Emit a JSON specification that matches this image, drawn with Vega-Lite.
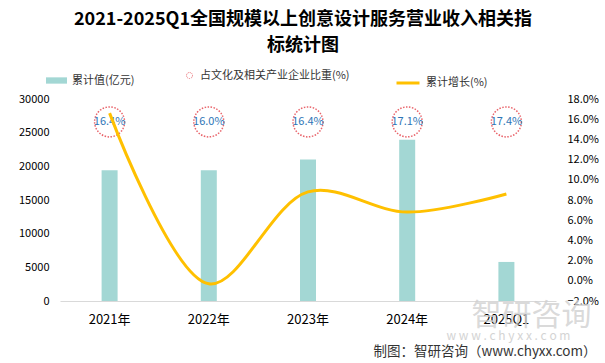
{
  "$schema": "https://vega.github.io/schema/vega-lite/v6.json",
  "width": 496,
  "height": 202,
  "autosize": {"type": "none"},
  "padding": {"left": 60, "top": 99, "right": 49, "bottom": 62},
  "background": "white",
  "config": {
    "view": {"stroke": null},
    "font": "Noto Sans CJK SC",
    "axis": {"labelFont": "Noto Sans CJK SC", "titleFont": "Noto Sans CJK SC"},
    "legend": {"labelFont": "Noto Sans CJK SC", "labelFontSize": 11, "labelColor": "#333333", "labelOffset": 5, "padding": 0}
  },
  "title": {
    "text": ["2021-2025Q1全国规模以上创意设计服务营业收入相关指", "标统计图"],
    "fontSize": 18,
    "fontWeight": "bold",
    "lineHeight": 26,
    "anchor": "middle",
    "color": "#000000",
    "font": "Noto Sans CJK SC",
    "offset": 15,
    "dx": -5
  },
  "data": {
    "values": [
      {"year": "2021年", "value": 19400, "growth": 16.6, "share": 0.164},
      {"year": "2022年", "value": 19400, "growth": -0.3, "share": 0.160},
      {"year": "2023年", "value": 21000, "growth": 8.8, "share": 0.164},
      {"year": "2024年", "value": 23950, "growth": 6.8, "share": 0.171},
      {"year": "2025Q1", "value": 5800, "growth": 8.6, "share": 0.174}
    ]
  },
  "encoding": {
    "x": {
      "field": "year",
      "type": "nominal",
      "sort": null,
      "scale": {"paddingInner": 0, "paddingOuter": 0},
      "axis": {
        "labelAngle": 0,
        "ticks": false,
        "domainColor": "#d9d9d9",
        "labelFontSize": 13,
        "labelColor": "#000000",
        "labelPadding": 12,
        "title": "制图：智研咨询（www.chyxx.com）",
        "titleFontSize": 13.5,
        "titleFontWeight": "normal",
        "titleColor": "#333333",
        "titleAnchor": "end",
        "titleAlign": "right",
        "titleBaseline": "middle",
        "titleX": 536,
        "titleY": 50
      }
    }
  },
  "layer": [
    {
      "layer": [
        {
          "mark": {"type": "bar", "size": 16},
          "encoding": {
            "y": {
              "field": "value",
              "type": "quantitative",
              "scale": {"domain": [0, 30000]},
              "axis": {
                "values": [0, 5000, 10000, 15000, 20000, 25000, 30000],
                "format": "d",
                "labelOverlap": false,
                "ticks": false,
                "domain": false,
                "grid": false,
                "labelFontSize": 11,
                "labelColor": "#000000",
                "labelPadding": 11,
                "title": "w  w  w  .  c  h  y  x  x  .  c  o  m",
                "titleFontSize": 12,
                "titleFontWeight": "normal",
                "titleColor": "#d4d4d4",
                "titleAngle": 0,
                "titleAlign": "center",
                "titleBaseline": "middle",
                "titleX": 448,
                "titleY": 236
              }
            },
            "fill": {
              "datum": "累计值(亿元)",
              "scale": {"range": ["#a3d7d4"]},
              "legend": {
                "orient": "none",
                "legendX": -14,
                "legendY": -29,
                "title": null,
                "symbolType": "M-1,-0.3L1,-0.3L1,0.3L-1,0.3Z",
                "symbolSize": 441,
                "symbolStrokeWidth": 0
              }
            }
          }
        },
        {
          "mark": {"type": "point", "shape": "circle", "size": 900, "filled": false, "strokeWidth": 1.5, "strokeDash": [1.5, 1.5]},
          "encoding": {
            "y": {
              "datum": 26600,
              "type": "quantitative",
              "axis": {
                "values": [0, 5000, 10000, 15000, 20000, 25000, 30000],
                "format": "d",
                "labelOverlap": false,
                "ticks": false,
                "domain": false,
                "grid": false,
                "labelFontSize": 11,
                "labelColor": "#000000",
                "labelPadding": 11,
                "title": "w  w  w  .  c  h  y  x  x  .  c  o  m",
                "titleFontSize": 12,
                "titleFontWeight": "normal",
                "titleColor": "#d4d4d4",
                "titleAngle": 0,
                "titleAlign": "center",
                "titleBaseline": "middle",
                "titleX": 448,
                "titleY": 236
              }
            },
            "color": {
              "datum": "占文化及相关产业企业比重(%)",
              "scale": {"range": ["#e0202a"]},
              "legend": {
                "orient": "none",
                "legendX": 124,
                "legendY": -29,
                "title": null,
                "symbolType": "circle",
                "symbolSize": 36,
                "symbolStrokeWidth": 1,
                "symbolDash": [1, 1],
                "symbolFillColor": "transparent"
              }
            }
          }
        },
        {
          "mark": {"type": "text", "fontSize": 11, "color": "#2e75b6", "baseline": "middle", "align": "center"},
          "encoding": {
            "y": {
              "datum": 26600,
              "type": "quantitative",
              "axis": {
                "values": [0, 5000, 10000, 15000, 20000, 25000, 30000],
                "format": "d",
                "labelOverlap": false,
                "ticks": false,
                "domain": false,
                "grid": false,
                "labelFontSize": 11,
                "labelColor": "#000000",
                "labelPadding": 11,
                "title": "w  w  w  .  c  h  y  x  x  .  c  o  m",
                "titleFontSize": 12,
                "titleFontWeight": "normal",
                "titleColor": "#d4d4d4",
                "titleAngle": 0,
                "titleAlign": "center",
                "titleBaseline": "middle",
                "titleX": 448,
                "titleY": 236
              }
            },
            "text": {"field": "share", "type": "quantitative", "format": ".1%"}
          }
        }
      ]
    },
    {
      "mark": {"type": "line", "interpolate": "catmull-rom", "strokeWidth": 3},
      "encoding": {
        "y": {
          "field": "growth",
          "type": "quantitative",
          "scale": {"domain": [-2, 18]},
          "axis": {
            "orient": "right",
            "values": [-2, 0, 2, 4, 6, 8, 10, 12, 14, 16, 18],
            "labelExpr": "format(datum.value, '.1f') + '%'",
            "labelOverlap": false,
            "labelBound": false,
            "ticks": false,
            "domain": false,
            "grid": false,
            "labelFontSize": 11,
            "labelColor": "#000000",
            "labelPadding": 11,
            "title": "智研咨询",
            "titleFontSize": 30,
            "titleFontWeight": "normal",
            "titleColor": "#d0d0d0",
            "titleOpacity": 0.8,
            "titleAngle": 0,
            "titleAlign": "center",
            "titleBaseline": "middle",
            "titleX": -25,
            "titleY": 216
          }
        },
        "stroke": {
          "datum": "累计增长(%)",
          "scale": {"range": ["#ffc000"]},
          "legend": {
            "orient": "none",
            "legendX": 335,
            "legendY": -29,
            "title": null,
            "symbolType": "stroke",
            "symbolSize": 529,
            "symbolStrokeWidth": 3
          }
        }
      }
    }
  ],
  "resolve": {"scale": {"y": "independent"}}
}
